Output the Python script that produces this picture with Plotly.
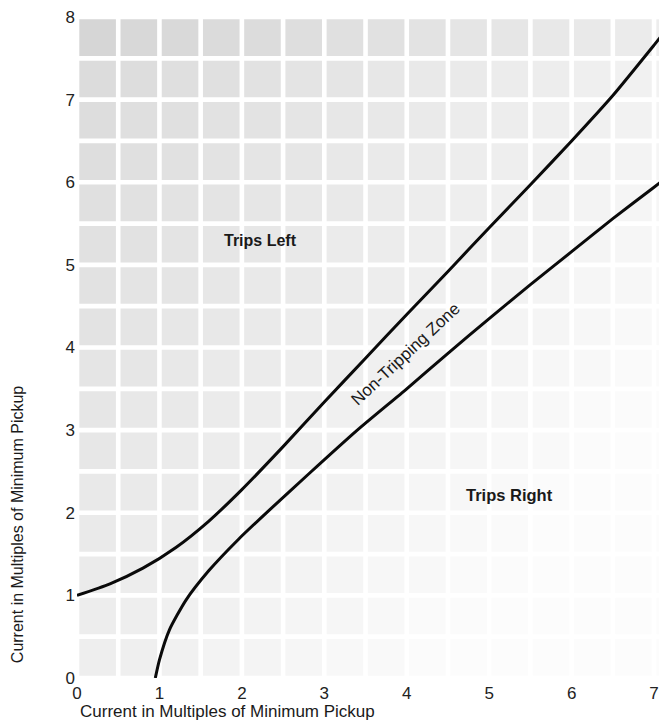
import plotly.graph_objects as go

# ---- data ----
upper_x = [0.0, 0.4, 0.8, 1.2, 1.6, 2.0, 2.5, 3.0, 3.5, 4.0, 4.5, 5.0, 5.5, 6.0, 6.5, 7.0, 7.08]
upper_y = [1.0, 1.14, 1.33, 1.58, 1.90, 2.28, 2.80, 3.34, 3.87, 4.40, 4.92, 5.45, 5.97, 6.50, 7.05, 7.66, 7.76]

lower_x = [0.95, 1.0, 1.12, 1.32, 1.6, 1.96, 2.32, 2.8, 3.4, 4.0, 4.5, 5.0, 5.5, 6.0, 6.5, 7.0, 7.08]
lower_y = [0.0, 0.22, 0.58, 0.94, 1.30, 1.68, 2.02, 2.46, 3.00, 3.50, 3.93, 4.35, 4.76, 5.16, 5.56, 5.94, 6.0]

x_ticks = [0, 1, 2, 3, 4, 5, 6, 7]
y_ticks = [0, 1, 2, 3, 4, 5, 6, 7, 8]

x_title = "Current in Multiples of Minimum Pickup"
y_title = "Current in Multiples of Minimum Pickup"
region_labels = ["Trips Left", "Non-Tripping Zone", "Trips Right"]

FONT = "Liberation Sans, Arial, sans-serif"
TXT = "#1a1a1a"

# page body adds an 8px margin; only window x < 659 is visible
OFF = 8
W, H = 667 - 2 * OFF, 724 - OFF
L, R, T = 77 - OFF, 0, 12 - OFF
B = 724 - 678
pw, ph = W - L - R, H - T - B
X_MAX = 7.06


def px_to_paper(wx, wy):
    """window pixel -> paper coords"""
    return (wx - 77) / pw, (678 - wy) / ph


fig = go.Figure()

# ---- decorative background texture (scanned grid paper look) ----
shapes = []
cell = 0.5
gap = 0.028
nx, ny = 15, 16
for i in range(nx):
    for j in range(ny):
        cx = i * cell + cell / 2
        cy = j * cell + cell / 2
        d = 0.08 - 0.015 * cx + 0.012 * cy
        if cy > 7.5:
            d += 0.02
        d = 0.85 * max(0.012, min(0.2, d))
        g = int(round(255 * (1 - d)))
        shapes.append(dict(
            type="rect", xref="x", yref="y", layer="below",
            x0=i * cell + gap, x1=min((i + 1) * cell - gap, X_MAX),
            y0=j * cell + gap, y1=(j + 1) * cell - gap,
            line=dict(width=0), fillcolor=f"rgb({g},{g},{g})",
        ))

for xs, ys in ((upper_x, upper_y), (lower_x, lower_y)):
    fig.add_trace(go.Scatter(x=xs, y=ys, mode="lines",
                             line=dict(color="#0a0a0a", width=3, shape="spline", smoothing=0.6),
                             showlegend=False, hoverinfo="skip"))

xt_x, xt_y = px_to_paper(78, 712)
yt_x, yt_y = px_to_paper(17, 523)

annotations = [
    dict(x=2.23, y=5.29, xref="x", yref="y", text="<b>" + region_labels[0] + "</b>",
         showarrow=False, font=dict(family=FONT, size=16, color=TXT)),
    dict(x=3.98, y=3.92, xref="x", yref="y", text=region_labels[1], textangle=-43,
         showarrow=False, font=dict(family=FONT, size=17, color=TXT)),
    dict(x=5.25, y=2.21, xref="x", yref="y", text="<b>" + region_labels[2] + "</b>",
         showarrow=False, font=dict(family=FONT, size=16.5, color=TXT)),
    dict(x=xt_x, y=xt_y, xref="paper", yref="paper", text=x_title, showarrow=False,
         xanchor="left", yanchor="middle", font=dict(family=FONT, size=17, color=TXT)),
    dict(x=yt_x, y=yt_y, xref="paper", yref="paper", text=y_title, showarrow=False,
         textangle=-90, xanchor="center", yanchor="middle",
         font=dict(family=FONT, size=16, color=TXT)),
]

fig.update_layout(
    width=W, height=H,
    margin=dict(l=L, r=R, t=T, b=B, pad=0),
    paper_bgcolor="white", plot_bgcolor="white",
    shapes=shapes, annotations=annotations,
    font=dict(family=FONT, color=TXT),
    xaxis=dict(range=[0, X_MAX], tickvals=x_ticks, ticktext=[str(v) for v in x_ticks],
               showgrid=False, zeroline=False, showline=False, ticks="",
               ticklabelstandoff=3, ticklabeloverflow="allow",
               tickfont=dict(size=17, color="#222"), fixedrange=True),
    yaxis=dict(range=[0, 8], tickvals=y_ticks, ticktext=[str(v) for v in y_ticks],
               showgrid=False, zeroline=False, showline=False, ticks="",
               ticklabelstandoff=1, ticklabeloverflow="allow",
               tickfont=dict(size=17, color="#222"), fixedrange=True),
)

fig.write_html("out.html")
